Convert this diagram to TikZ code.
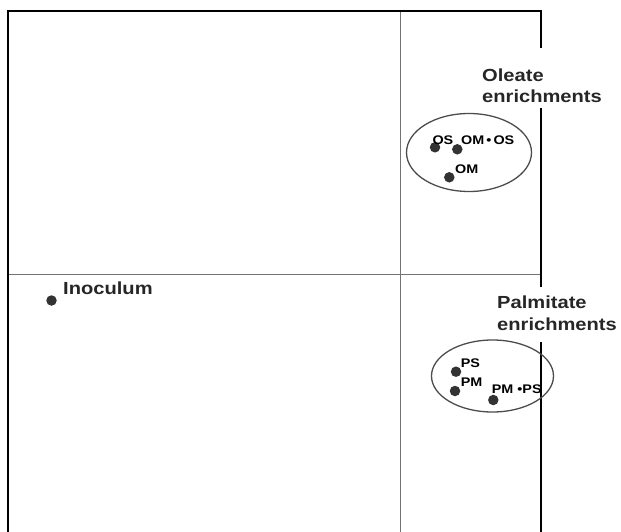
\documentclass[tikz,border=0pt]{standalone}
\usepackage{fontspec}
\newfontfamily\lblfont[FakeStretch=1.15]{Liberation Sans}
\usetikzlibrary{shapes.geometric,positioning}
\tikzstyle{axis}=[draw=black!55, line width=1pt]
\tikzstyle{frame}=[draw=black, line width=2pt]
\tikzstyle{spot}=[circle, fill=black!80, inner sep=0pt, minimum size=10.5pt]
\tikzstyle{group}=[ellipse, draw=black!70, line width=1.3pt, inner sep=0pt]
\tikzstyle{big}=[font=\lblfont\bfseries\fontsize{17.5}{20}\selectfont, text=black!85, inner sep=0pt, anchor=base west]
\tikzstyle{small}=[font=\lblfont\bfseries\fontsize{12.5}{14}\selectfont, inner sep=0pt, anchor=base west]
\begin{document}
\begin{tikzpicture}[x=1pt,y=-1pt]
    \useasboundingbox (0,0) rectangle (621,532);

    % axes
    \draw[axis] (400,11) -- (400,532);
    \draw[axis] (8,274.5) -- (541,274.5);
    \draw[frame] (8,532) -- (8,11) -- (541,11) -- (541,48);
    \draw[frame] (541,108) -- (541,287);
    \draw[frame] (541,342) -- (541,532);

    % groups
    \node[group, minimum width=125pt, minimum height=78pt] (O) at (469,152.5) {};
    \node[group, minimum width=122pt, minimum height=72pt] (P) at (492.5,376) {};

    \node[big] (Ot) at (482,81.7) {Oleate};
    \node[big] (Oe) at (482,103) {enrichments};
    \node[big] (Pt) at (497,308.3) {Palmitate};
    \node[big] (Pe) at (497,330) {enrichments};

    % samples
    \node[spot] (I)  at (51.5,300.5) {};
    \node[big]  (It) at (63,294.3) {Inoculum};

    \node[spot]  (OS)   at (435,147.3) {};
    \node[spot]  (OM)   at (457.3,149.3) {};
    \node[spot]  (OM2)  at (449.3,177.3) {};
    \node[small] (OSt)  at (432.3,145) {OS};
    \node[small] (OMOS) at (461,145) {OM\,•\,OS};
    \node[small] (OM2t) at (455,173.3) {OM};

    \node[spot]  (PS)   at (456,371.7) {};
    \node[spot]  (PM)   at (455,391) {};
    \node[spot]  (PMPS) at (493.3,400) {};
    \node[small] (PSt)  at (460.7,367.3) {PS};
    \node[small] (PMt)  at (460.7,386.7) {PM};
    \node[small] (PMPSt) at (491.7,393.3) {PM •PS};

\end{tikzpicture}
\end{document}
